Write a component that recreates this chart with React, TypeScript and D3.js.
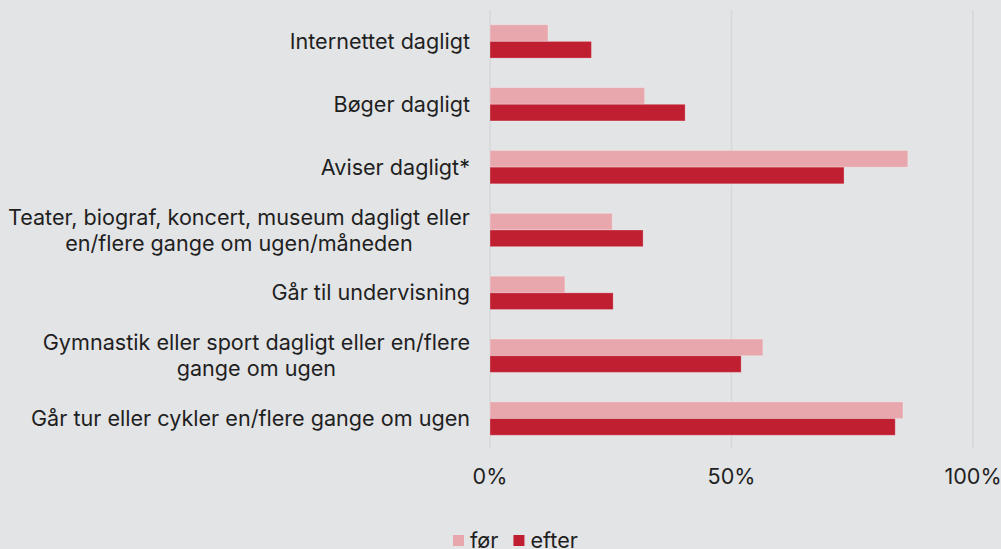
import React, { useEffect, useRef } from "react";
import * as d3 from "d3";

const categories: string[][] = [
  ["Internettet dagligt"],
  ["Bøger dagligt"],
  ["Aviser dagligt*"],
  ["Teater, biograf, koncert, museum dagligt eller", "en/flere gange om ugen/måneden"],
  ["Går til undervisning"],
  ["Gymnastik eller sport dagligt eller en/flere", "gange om ugen"],
  ["Går tur eller cykler en/flere gange om ugen"],
];
const forValues = [12, 32, 86.5, 25.3, 15.5, 56.5, 85.5];
const efterValues = [21, 40.4, 73.3, 31.7, 25.5, 52, 83.9];
const tickValues = [0, 0.5, 1];
const seriesNames = ["før", "efter"];
const seriesColors = ["#e8a7ad", "#c01f32"];

const W = 1001;
const H = 549;
const FONT = "Inter";

export default function App() {
  const ref = useRef<SVGSVGElement | null>(null);

  useEffect(() => {
    const svg = d3.select(ref.current);
    svg.selectAll("*").remove();

    svg.append("rect").attr("width", W).attr("height", H).attr("fill", "#e3e4e6");

    const x = d3.scaleLinear().domain([0, 1]).range([490, 973]);
    const y = d3
      .scaleBand<number>()
      .domain(d3.range(categories.length))
      .range([10, 450])
      .paddingInner(0.47)
      .paddingOuter(0.235);
    const sub = d3.scaleBand<number>().domain([0, 1]).range([0, y.bandwidth()]);

    svg
      .append("g")
      .selectAll("line")
      .data(tickValues)
      .join("line")
      .attr("x1", (d) => x(d))
      .attr("x2", (d) => x(d))
      .attr("y1", 10)
      .attr("y2", 448)
      .attr("stroke", "#d6d7d9")
      .attr("stroke-width", 1.5);

    const series = [forValues, efterValues];
    series.forEach((vals, si) => {
      svg
        .append("g")
        .selectAll("rect")
        .data(vals)
        .join("rect")
        .attr("x", x(0))
        .attr("y", (_, i) => (y(i) as number) + (sub(si) as number))
        .attr("width", (d) => x(d / 100) - x(0))
        .attr("height", sub.bandwidth())
        .attr("fill", seriesColors[si])
        .attr("stroke", "rgba(255,255,255,0.25)")
        .attr("stroke-width", 1);
    });

    const labelRight = 470;
    const lineH = 26;
    const fs = 21.6;
    categories.forEach((lines, i) => {
      const cy = (y(i) as number) + y.bandwidth() / 2;
      const g = svg.append("g");
      const texts = lines.map((l, li) =>
        g
          .append("text")
          .attr("y", cy + (li - (lines.length - 1) / 2) * lineH)
          .attr("dy", "0.35em")
          .attr("font-family", FONT)
          .attr("font-size", fs)
          .attr("fill", "#1f1f1f")
          .attr("text-anchor", "middle")
          .text(l)
      );
      const widths = texts.map((t) => (t.node() as SVGTextElement).getComputedTextLength());
      const maxW = Math.max(...widths);
      texts.forEach((t) => t.attr("x", labelRight - maxW / 2));
    });

    svg
      .append("g")
      .selectAll("text")
      .data(tickValues)
      .join("text")
      .attr("x", (d) => x(d))
      .attr("y", 476)
      .attr("dy", "0.35em")
      .attr("text-anchor", "middle")
      .attr("font-family", FONT)
      .attr("font-size", fs)
      .attr("fill", "#1f1f1f")
      .text((d) => d3.format(".0%")(d));

    const lg = svg.append("g");
    let lx = 453;
    seriesNames.forEach((name, si) => {
      lg.append("rect")
        .attr("x", lx)
        .attr("y", 535)
        .attr("width", 11)
        .attr("height", 11)
        .attr("fill", seriesColors[si]);
      const t = lg
        .append("text")
        .attr("x", lx + 17)
        .attr("y", 540)
        .attr("dy", "0.35em")
        .attr("font-family", FONT)
        .attr("font-size", fs)
        .attr("fill", "#1f1f1f")
        .text(name);
      lx += 17 + (t.node() as SVGTextElement).getComputedTextLength() + 15;
    });
  }, []);

  return (
    <svg
      ref={ref}
      width={W}
      height={H}
      style={{ position: "absolute", left: 0, top: 0, display: "block" }}
    />
  );
}
